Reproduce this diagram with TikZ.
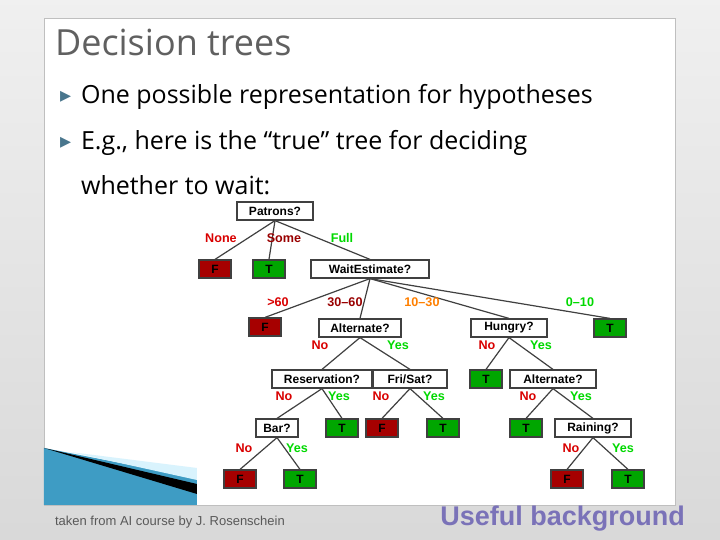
\documentclass[tikz,border=0pt]{standalone}
\usepackage{fontspec}
\setmainfont{Open Sans}
\newfontfamily\tf{Liberation Sans}
\newfontfamily\djvfont{DejaVu Sans}
\definecolor{ubc}{HTML}{7A72B8}
\definecolor{wedge}{HTML}{3E9CC4}
\begin{document}
\begin{tikzpicture}[x=0.5pt,y=-0.5pt,
 q/.style={draw=black!75,fill=white,line width=0.6pt,minimum height=9pt,inner sep=0pt,font=\tf\bfseries\fontsize{6}{6}\selectfont},
 lf/.style={q,fill=red!65!black,minimum width=16pt},
 lt/.style={q,fill=green!65!black,minimum width=16pt},
 e/.style={draw=black!75,line width=0.6pt},
 lb/.style={font=\tf\bfseries\fontsize{6.3}{7}\selectfont},
 no/.style={lb,text=red!85!black},
 yes/.style={lb,text=green!85!black}]
\useasboundingbox (0,0) rectangle (720,540);
\shade[top color=gray!12,bottom color=gray!30] (0,0) rectangle (720,540);
\fill[white] (44,18) rectangle (675,505);
\draw[gray!50] (44,18) rectangle (675,505);
% wedge
\fill[wedge] (44,448) -- (197,478) -- (197,505) -- (44,505) -- cycle;
\fill[black] (44,448) -- (197,484) -- (197,494) -- cycle;
\fill[cyan!15] (70,452) -- (197,468) -- (197,480) -- cycle;
\node[anchor=west,text=gray!75!black,font=\fontsize{18}{20}\selectfont] (title) at (48,42) {Decision trees};
\node[anchor=west,text=cyan!50!black,font=\djvfont\fontsize{11}{11}\selectfont] (b1) at (53,97) {▸};
\node[anchor=west,text=cyan!50!black,font=\djvfont\fontsize{11}{11}\selectfont] (b2) at (53,143) {▸};
\node[anchor=west,font=\fontsize{12.5}{15}\selectfont] (t1) at (74,97) {One possible representation for hypotheses};
\node[anchor=west,font=\fontsize{12.5}{15}\selectfont] (t2) at (74,143) {E.g., here is the “true” tree for deciding};
\node[anchor=west,font=\fontsize{12.5}{15}\selectfont] (t3) at (74,185) {whether to wait:};
% tree
\node[q,minimum width=38pt] (pat) at (275,211) {Patrons?};
\node[lf] (f1) at (215,269) {F};
\node[lt] (t1n) at (269,269) {T};
\node[q,minimum width=59pt] (we) at (370,269) {WaitEstimate?};
\node[lf] (f2) at (265,327) {F};
\node[q,minimum width=41pt] (alt) at (360,328) {Alternate?};
\node[q,minimum width=38pt] (hun) at (509,328) {Hungry?};
\node[lt] (t2) at (610,328) {T};
\node[q,minimum width=50pt] (res) at (322,379) {Reservation?};
\node[q,minimum width=37pt] (fri) at (410,379) {Fri/Sat?};
\node[lt] (t3n) at (486,379) {T};
\node[q,minimum width=43pt] (alt2) at (553,379) {Alternate?};
\node[q,minimum width=21pt] (bar) at (277,428) {Bar?};
\node[lt] (t4) at (342,428) {T};
\node[lf] (f3) at (382,428) {F};
\node[lt] (t5) at (443,428) {T};
\node[lt] (t6) at (526,428) {T};
\node[q,minimum width=38pt] (rain) at (593,428) {Raining?};
\node[lf] (f4) at (240,479) {F};
\node[lt] (t7) at (300,479) {T};
\node[lf] (f5) at (567,479) {F};
\node[lt] (t8) at (628,479) {T};
\foreach \a/\b in {pat/f1,pat/t1n,pat/we,we/f2,we/alt,we/hun,we/t2,alt/res,alt/fri,hun/t3n,hun/alt2,res/bar,res/t4,fri/f3,fri/t5,alt2/t6,alt2/rain,bar/f4,bar/t7,rain/f5,rain/t8}
  \draw[e] (\a.south) -- (\b.north);
\node[lb,text=red!85!black] (l1) at (221,238) {None};
\node[lb,text=red!60!black] (l2) at (284,238) {Some};
\node[lb,text=green!85!black] (l3) at (342,238) {Full};
\node[lb,text=red!85!black] (l4) at (278,302) {>60};
\node[lb,text=red!60!black] (l5) at (345,302) {30–60};
\node[lb,text=orange] (l6) at (422,302) {10–30};
\node[lb,text=green!85!black] (l7) at (580,302) {0–10};
\node[no] (n1) at (320,345) {No}; \node[yes] (y1) at (398,345) {Yes};
\node[no] (n2) at (487,345) {No}; \node[yes] (y2) at (541,345) {Yes};
\node[no] (n3) at (284,396) {No}; \node[yes] (y3) at (339,396) {Yes};
\node[no] (n4) at (381,396) {No}; \node[yes] (y4) at (434,396) {Yes};
\node[no] (n5) at (528,396) {No}; \node[yes] (y5) at (581,396) {Yes};
\node[no] (n6) at (244,448) {No}; \node[yes] (y6) at (297,448) {Yes};
\node[no] (n7) at (571,448) {No}; \node[yes] (y7) at (623,448) {Yes};
\node[anchor=west,text=gray!70!black,font=\tf\fontsize{6.5}{8}\selectfont] (src) at (48,522) {taken from AI course by J. Rosenschein};
\node[anchor=east,text=ubc,font=\tf\bfseries\fontsize{13.5}{16}\selectfont] (ub) at (692,519) {Useful background};
\end{tikzpicture}
\end{document}
